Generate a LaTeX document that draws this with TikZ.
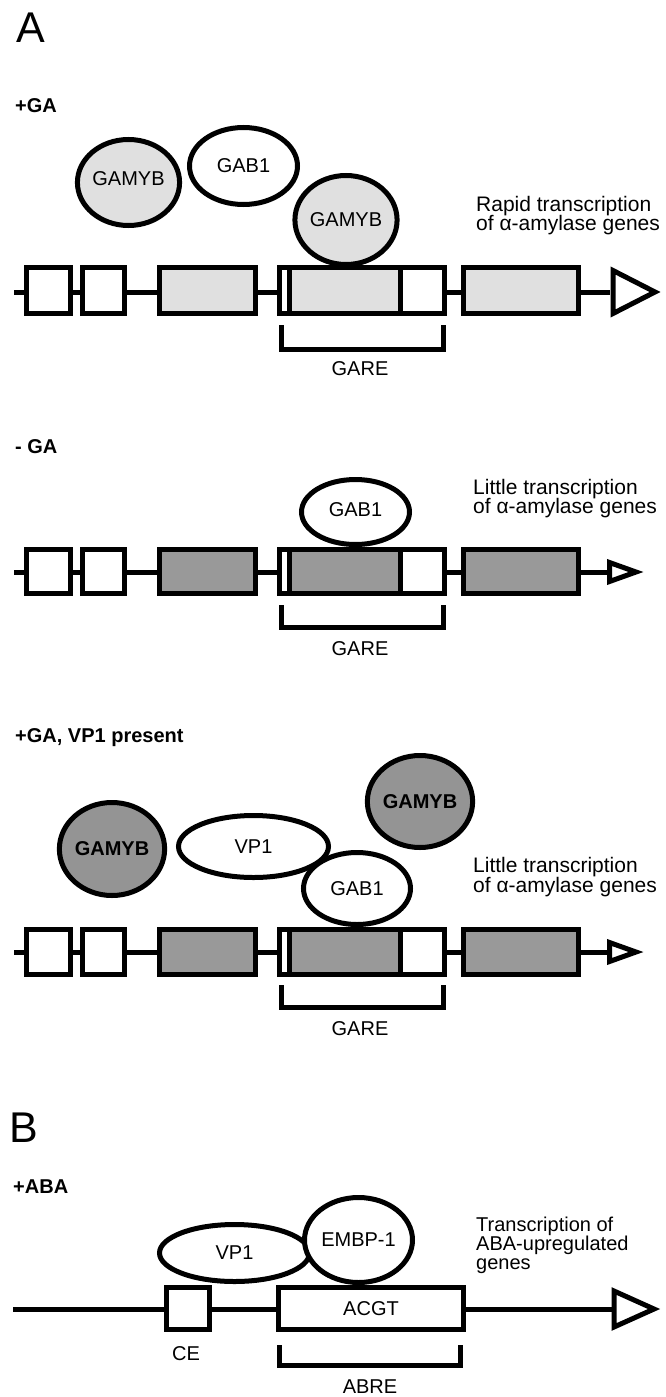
\documentclass[tikz,border=0pt]{standalone}
\usepackage{fontspec}
\setmainfont{Liberation Sans}
\usetikzlibrary{shapes.geometric}
\newcommand\fdesc{\fontsize{21}{20}\selectfont}
\newcommand\fdescb{\fontsize{20}{19}\selectfont}
\newcommand\flab{\fontsize{20}{20}\selectfont}
\newcommand\fcond{\fontsize{20}{20}\selectfont\bfseries}
\newcommand\fpanel{\fontsize{43}{43}\selectfont}
\tikzset{
  prot/.style={ellipse, draw=black, line width=5pt, fill=white, inner sep=0pt, font=\flab},
  gamyblight/.style={prot, fill=black!12},
  gamybdark/.style={prot, fill=black!42, font=\flab\bfseries},
  dnabox/.style={draw=black, line width=5pt, fill=white},
  lightsh/.style={fill=black!12},
  darksh/.style={fill=black!40},
  dnaline/.style={line width=5pt},
  bigtip/.style={draw=black, line width=5pt, fill=white, line join=miter},
  txt/.style={inner sep=0pt, anchor=base west},
  ctxt/.style={inner sep=0pt, anchor=base},
  brk/.style={line width=5pt, line join=miter}
}
% #1 prefix, #2 top, #3 bottom (stroke centres), #4 line y, #5 shading style
\newcommand\dnarow[5]{%
  \coordinate (#1s) at (14,#4);
  \coordinate (#1e) at (610,#4);
  \draw[dnaline] (#1s) -- (#1e);
  \draw[dnabox] (26.5,#2) rectangle (70.5,#3);
  \draw[dnabox] (82.5,#2) rectangle (124.5,#3);
  \draw[dnabox,#5] (159.5,#2) rectangle (255.5,#3);
  \fill[white] (279.5,#2) rectangle (444.5,#3);
  \fill[#5] (289.5,#2) rectangle (400.5,#3);
  \draw[line width=5pt] (279.5,#2) rectangle (444.5,#3);
  \draw[line width=5pt] (289.5,#2) -- (289.5,#3) (400.5,#2) -- (400.5,#3);
  \draw[dnabox,#5] (463.5,#2) rectangle (578.5,#3);
}
\begin{document}
\begin{tikzpicture}[x=1pt,y=-1pt]
\useasboundingbox (0,0) rectangle (666,1397);
% ---------- Panel A, +GA ----------
\node[txt,font=\fpanel] (lblA) at (16,43) {A};
\node[txt,font=\fcond] (cond1) at (15,112) {+GA};
\node[gamyblight, minimum width=94pt, minimum height=86pt] (gamybA) at (128.5,182.5) {\raisebox{7pt}{GAMYB}};
\node[prot, minimum width=108pt, minimum height=77pt] (gabA) at (243.5,166) {GAB1};
\node[gamyblight, minimum width=97pt, minimum height=89pt] (gamybB) at (346,220) {GAMYB};
\dnarow{r1}{267.5}{313.5}{292}{lightsh}
\draw[bigtip] (613,270.5) -- (655,292) -- (613,313.5) -- cycle;
\draw[brk] (281.5,325) -- (281.5,349.5) -- (443.5,349.5) -- (443.5,325);
\node[ctxt,font=\flab] (gare1) at (360,375) {GARE};
\node[txt,font=\fdesc] (d1a) at (476,211) {Rapid transcription};
\node[txt,font=\fdesc] (d1b) at (476,230) {of α-amylase genes};
% ---------- Panel A, -GA ----------
\node[txt,font=\fcond] (cond2) at (15,453) {- GA};
\node[prot, minimum width=108pt, minimum height=65pt] (gabB) at (355.5,512) {\raisebox{4pt}{GAB1}};
\dnarow{r2}{549.5}{593.5}{572}{darksh}
\draw[bigtip] (609.5,562.5) -- (636,572) -- (609.5,581.5) -- cycle;
\draw[brk] (281.5,605) -- (281.5,627.5) -- (443.5,627.5) -- (443.5,605);
\node[ctxt,font=\flab] (gare2) at (360,655) {GARE};
\node[txt,font=\fdesc] (d2a) at (473,494) {Little transcription};
\node[txt,font=\fdesc] (d2b) at (473,513) {of α-amylase genes};
% ---------- Panel A, +GA, VP1 present ----------
\node[txt,font=\fcond] (cond3) at (15,742) {+GA, VP1 present};
\node[gamybdark, minimum width=95pt, minimum height=93pt] (gamybC) at (112,849) {GAMYB};
\node[gamybdark, minimum width=87pt, minimum height=92pt] (gamybD) at (420,801.5) {GAMYB};
\node[prot, minimum width=107pt, minimum height=72pt] (gabC) at (357,888.5) {GAB1};
\node[prot, minimum width=150pt, minimum height=62pt] (vpA) at (253.5,846.5) {VP1};
\dnarow{r3}{929.5}{974.5}{952}{darksh}
\draw[bigtip] (609.5,942.5) -- (636,952) -- (609.5,961.5) -- cycle;
\draw[brk] (281.5,985) -- (281.5,1007.5) -- (443.5,1007.5) -- (443.5,985);
\node[ctxt,font=\flab] (gare3) at (360,1035) {GARE};
\node[txt,font=\fdesc] (d3a) at (473,872) {Little transcription};
\node[txt,font=\fdesc] (d3b) at (473,892) {of α-amylase genes};
% ---------- Panel B ----------
\node[txt,font=\fpanel] (lblB) at (9,1142) {B};
\node[txt,font=\fcond] (cond4) at (13,1193) {+ABA};
\coordinate (r4s) at (13,1309);
\coordinate (r4e) at (614,1309);
\draw[dnaline] (r4s) -- (r4e);
\draw[dnabox] (166.5,1287.5) rectangle (209.5,1329.5);
\draw[dnabox] (278.5,1287.5) rectangle (463.5,1329.5);
\node[ctxt,font=\flab] (acgt) at (371,1315) {ACGT};
\draw[bigtip] (614,1291) -- (654,1309) -- (614,1327) -- cycle;
\node[prot, minimum width=150pt, minimum height=57pt] (vpB) at (234.5,1253) {\raisebox{-6pt}{VP1}};
\node[prot, minimum width=108pt, minimum height=85pt] (embp) at (358.5,1240) {EMBP-1};
\node[ctxt,font=\flab] (ce) at (186,1360) {CE};
\draw[brk] (279.5,1345) -- (279.5,1365.5) -- (460.5,1365.5) -- (460.5,1345);
\node[ctxt,font=\flab] (abre) at (370,1393) {ABRE};
\node[txt,font=\fdescb] (d4a) at (476,1231) {Transcription of};
\node[txt,font=\fdescb] (d4b) at (476,1250) {ABA-upregulated};
\node[txt,font=\fdescb] (d4c) at (476,1269) {genes};
\end{tikzpicture}
\end{document}
